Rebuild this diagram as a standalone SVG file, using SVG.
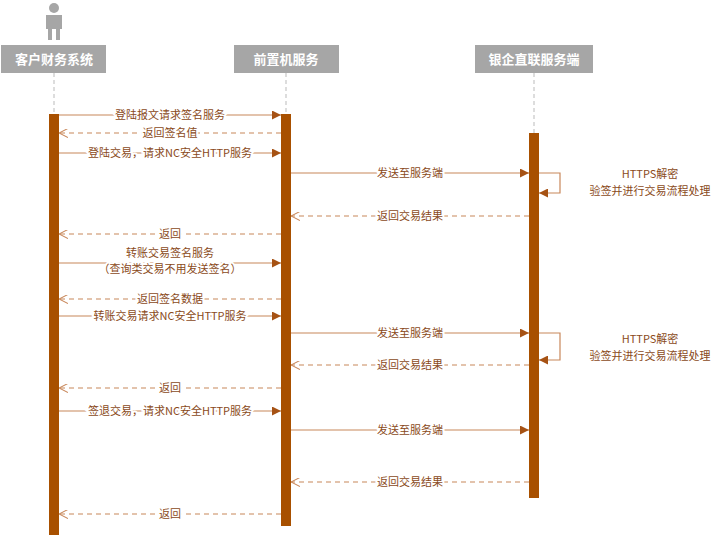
<svg xmlns="http://www.w3.org/2000/svg" width="720" height="535" viewBox="0 0 720 535">
<defs>
<marker id="fa" viewBox="0 0 10 10" refX="10" refY="5" markerWidth="9" markerHeight="9" markerUnits="userSpaceOnUse" orient="auto"><path d="M0,0L10,5L0,10z" fill="#a65214"/></marker>
<marker id="oa" viewBox="0 0 10 10" refX="10" refY="5" markerWidth="9" markerHeight="9" markerUnits="userSpaceOnUse" orient="auto"><path d="M0,0L10,5L0,10" fill="none" stroke="#c8875a" stroke-width="1.2"/></marker>
</defs>
<style>
.hd{fill:#a6a6a6}
.ht{fill:#fff;font:bold 13px "Noto Sans CJK SC",sans-serif;text-anchor:middle}
.ll{stroke:#bbb;stroke-dasharray:4,3;fill:none}
.bar{fill:#a85000}
.m{stroke:#c8875a;stroke-width:1.2;fill:none;marker-end:url(#fa)}
.r{stroke:#c8875a;stroke-width:1.2;fill:none;stroke-dasharray:5,4;marker-end:url(#oa)}
.t{fill:#8a4a1a;font:11px "Noto Sans CJK SC",sans-serif;text-anchor:middle;stroke:#fff;stroke-width:4;paint-order:stroke}
.n{fill:#8a4a1a;font:11px "Noto Sans CJK SC",sans-serif;text-anchor:middle}
</style>
<g id="actor" fill="#a6a6a6">
<circle cx="54" cy="8" r="5"/>
<path d="M46,15h16v14h-2v11h-4v-11h-4v11h-4v-11h-2z"/>
</g>
<g id="lifelines">
<line class="ll" x1="54" y1="73" x2="54" y2="114"/>
<line class="ll" x1="286" y1="73" x2="286" y2="114"/>
<line class="ll" x1="534" y1="73" x2="534" y2="133"/>
</g>
<g id="n1"><rect class="hd" x="1" y="45" width="105" height="28"/><text class="ht" x="54" y="64">客户财务系统</text></g>
<g id="n2"><rect class="hd" x="234" y="45" width="105" height="28"/><text class="ht" x="286" y="64">前置机服务</text></g>
<g id="n3"><rect class="hd" x="475" y="45" width="118" height="28"/><text class="ht" x="534" y="64">银企直联服务端</text></g>
<g id="bars">
<rect class="bar" x="49" y="114" width="10" height="421"/>
<rect class="bar" x="281" y="114" width="10" height="412"/>
<rect class="bar" x="529" y="133" width="10" height="365"/>
</g>
<g id="connectors">
<line class="m" x1="59" y1="115" x2="281" y2="115"/>
<line class="r" x1="281" y1="133" x2="59" y2="133"/>
<line class="m" x1="59" y1="153" x2="281" y2="153"/>
<line class="m" x1="291" y1="173" x2="529" y2="173"/>
<path class="m" d="M539,173H560V193H539"/>
<line class="r" x1="529" y1="216" x2="291" y2="216"/>
<line class="r" x1="281" y1="234" x2="59" y2="234"/>
<line class="m" x1="59" y1="263" x2="281" y2="263"/>
<line class="r" x1="281" y1="299" x2="59" y2="299"/>
<line class="m" x1="59" y1="316" x2="281" y2="316"/>
<line class="m" x1="291" y1="333" x2="529" y2="333"/>
<path class="m" d="M539,333H560V360H539"/>
<line class="r" x1="529" y1="365" x2="291" y2="365"/>
<line class="r" x1="281" y1="388" x2="59" y2="388"/>
<line class="m" x1="59" y1="411" x2="281" y2="411"/>
<line class="m" x1="291" y1="430" x2="529" y2="430"/>
<line class="r" x1="529" y1="482" x2="291" y2="482"/>
<line class="r" x1="281" y1="514" x2="59" y2="514"/>
</g>
<g id="labels">
<text class="t" x="170" y="119">登陆报文请求签名服务</text>
<text class="t" x="170" y="137">返回签名值</text>
<text class="t" x="170" y="157">登陆交易，请求NC安全HTTP服务</text>
<text class="t" x="410" y="177">发送至服务端</text>
<text class="n" x="650" y="178">HTTPS解密</text>
<text class="n" x="650" y="195">验签并进行交易流程处理</text>
<text class="t" x="410" y="220">返回交易结果</text>
<text class="t" x="170" y="238">返回</text>
<text class="t" x="170" y="257">转账交易签名服务</text>
<text class="t" x="170" y="273">（查询类交易不用发送签名）</text>
<text class="t" x="170" y="303">返回签名数据</text>
<text class="t" x="170" y="320">转账交易请求NC安全HTTP服务</text>
<text class="t" x="410" y="337">发送至服务端</text>
<text class="n" x="650" y="343">HTTPS解密</text>
<text class="n" x="650" y="360">验签并进行交易流程处理</text>
<text class="t" x="410" y="369">返回交易结果</text>
<text class="t" x="170" y="392">返回</text>
<text class="t" x="170" y="415">签退交易，请求NC安全HTTP服务</text>
<text class="t" x="410" y="434">发送至服务端</text>
<text class="t" x="410" y="486">返回交易结果</text>
<text class="t" x="170" y="518">返回</text>
</g>
</svg>
